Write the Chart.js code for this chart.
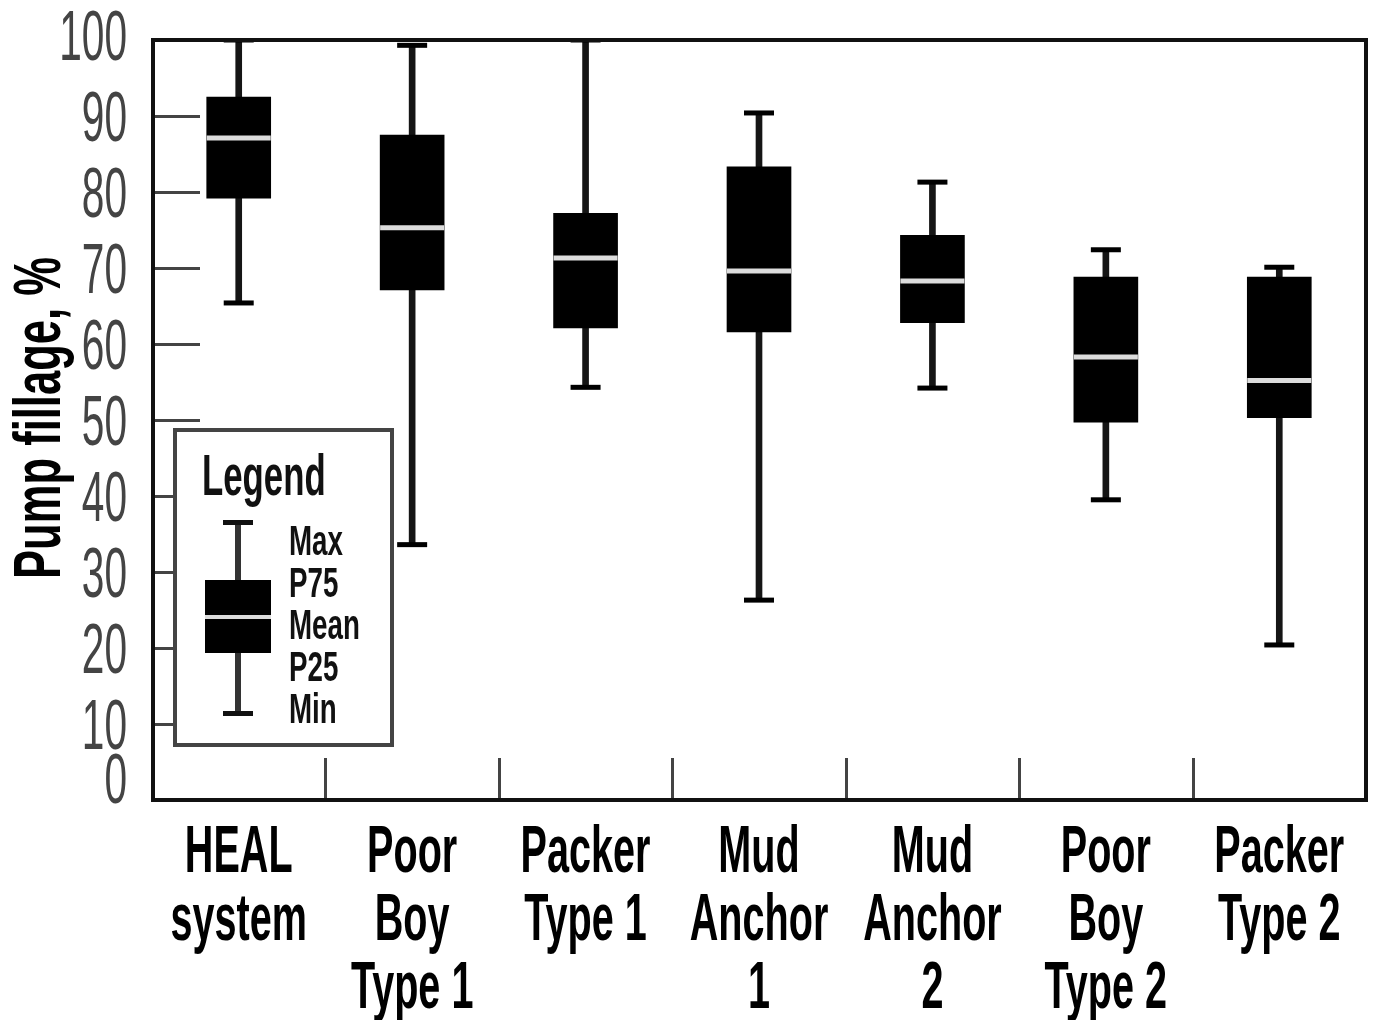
<!DOCTYPE html>
<html>
<head>
<meta charset="utf-8">
<script src="https://cdn.jsdelivr.net/npm/chart.js@4.4.1/dist/chart.umd.min.js"></script>
<style>
  html, body { margin: 0; padding: 0; background: #ffffff; overflow: hidden; }
  #wrap { position: relative; width: 1375px; height: 1020px; }
  canvas { display: block; }
</style>
</head>
<body>
<div id="wrap"><canvas id="c" width="1375" height="1020"></canvas></div>
<script>
// ---- data ----
const categories = [
  ["HEAL", "system"],
  ["Poor", "Boy", "Type 1"],
  ["Packer", "Type 1"],
  ["Mud", "Anchor", "1"],
  ["Mud", "Anchor", "2"],
  ["Poor", "Boy", "Type 2"],
  ["Packer", "Type 2"]
];
const maxVals  = [100.0, 99.3, 100.0, 90.4, 81.3, 72.4, 70.1];
const p75Vals  = [92.5, 87.5, 77.2, 83.3, 74.3, 68.8, 68.8];
const meanVals = [87.1, 75.3, 71.3, 69.6, 68.3, 58.3, 55.2];
const p25Vals  = [79.2, 67.1, 62.1, 61.6, 62.8, 49.7, 50.3];
const minVals  = [65.4, 33.6, 54.3, 26.3, 54.2, 39.5, 20.4];
const yTicks   = [0, 10, 20, 30, 40, 50, 60, 70, 80, 90, 100];
const yTitle   = "Pump fillage, %";
const legendTitle = "Legend";
const legendItems = ["Max", "P75", "Mean", "P25", "Min"];

const FONT = '"Liberation Sans", Arial, sans-serif';

function drawText(ctx, text, x, y, opts) {
  ctx.save();
  ctx.translate(x, y);
  if (opts.rotate) ctx.rotate(opts.rotate);
  ctx.scale(opts.sx || 1, 1);
  ctx.font = opts.font;
  ctx.fillStyle = opts.color || '#000';
  ctx.textAlign = opts.align || 'left';
  ctx.textBaseline = 'alphabetic';
  ctx.fillText(text, 0, 0);
  ctx.restore();
}

const decor = {
  id: 'decor',
  beforeDatasetsDraw(chart) {
    const ctx = chart.ctx, a = chart.chartArea;
    const ys = chart.scales.y, xs = chart.scales.x;
    ctx.save();
    ctx.strokeStyle = '#444';
    ctx.lineWidth = 3;
    yTicks.forEach(v => {
      if (v === 0 || v === 100) return;
      const py = Math.round(ys.getPixelForValue(v)) + 0.5;
      ctx.beginPath(); ctx.moveTo(a.left, py); ctx.lineTo(a.left + 48, py); ctx.stroke();
    });
    for (let i = 1; i < categories.length; i++) {
      const px = Math.round((xs.getPixelForValue(i - 1) + xs.getPixelForValue(i)) / 2) + 0.5;
      ctx.beginPath(); ctx.moveTo(px, a.bottom); ctx.lineTo(px, a.bottom - 42); ctx.stroke();
    }
    ctx.restore();
  },
  afterDatasetsDraw(chart) {
    const ctx = chart.ctx, a = chart.chartArea;
    const ys = chart.scales.y, xs = chart.scales.x;
    ctx.save();
    ctx.strokeStyle = '#111';
    ctx.lineWidth = 4;
    ctx.strokeRect(a.left + 1, a.top, a.right - a.left - 1, a.bottom - a.top);
    ctx.restore();

    yTicks.forEach(v => {
      let py = ys.getPixelForValue(v) + 25;
      if (v === 0) py -= 22;
      if (v === 100) py -= 5;
      drawText(ctx, String(v), a.left - 25, py,
        { font: '400 70px ' + FONT, sx: 0.58, align: 'right', color: '#444' });
    });

    chart.data.labels.forEach((lab, i) => {
      const px = xs.getPixelForValue(i);
      const lines = Array.isArray(lab) ? lab : [lab];
      lines.forEach((ln, j) => {
        drawText(ctx, ln, px, a.bottom + 72 + j * 68,
          { font: 'bold 66px ' + FONT, sx: 0.6, align: 'center', color: '#000' });
      });
    });

    drawText(ctx, yTitle, 60, (a.top + a.bottom) / 2 - 2,
      { font: 'bold 66px ' + FONT, sx: 0.66, align: 'center', rotate: -Math.PI / 2, color: '#000' });

    const L = a.left + 23, T = a.top + 390, W = 217, H = 315;
    ctx.save();
    ctx.fillStyle = '#fff';
    ctx.fillRect(L, T, W, H);
    ctx.strokeStyle = '#444';
    ctx.lineWidth = 4;
    ctx.strokeRect(L, T, W, H);
    ctx.restore();
    drawText(ctx, legendTitle, L + 27, T + 65,
      { font: 'bold 58px ' + FONT, sx: 0.6, align: 'left', color: '#111' });
    const cx = L + 63;
    ctx.save();
    ctx.fillStyle = '#333';
    ctx.fillRect(cx - 3, T + 93, 6, 190);
    ctx.fillStyle = '#111';
    ctx.fillRect(cx - 15, T + 90, 30, 5);
    ctx.fillRect(cx - 15, T + 281, 30, 5);
    ctx.fillStyle = '#000';
    ctx.fillRect(cx - 33, T + 150, 66, 73);
    ctx.fillStyle = '#dcdcdc';
    ctx.fillRect(cx - 33, T + 185, 66, 4);
    ctx.restore();
    legendItems.forEach((t, k) => {
      drawText(ctx, t, L + 114, T + 125 + k * 42,
        { font: 'bold 42px ' + FONT, sx: 0.66, align: 'left', color: '#111' });
    });
  }
};

const whiskerData = minVals.map((v, i) => [v, maxVals[i]]);
const boxData = p25Vals.map((v, i) => [v, p75Vals[i]]);

new Chart(document.getElementById('c'), {
  type: 'bar',
  data: {
    labels: categories,
    datasets: [
      { type: 'bar', data: whiskerData, backgroundColor: '#151515', barThickness: 6,
        grouped: false, order: 5, borderWidth: 0 },
      { type: 'bar', data: boxData, backgroundColor: '#000000', barThickness: 64,
        grouped: false, order: 4, borderWidth: 0 },
      { type: 'line', data: maxVals, showLine: false, pointStyle: 'line', pointRadius: 15,
        pointBorderWidth: 5, pointBorderColor: '#000', order: 3 },
      { type: 'line', data: minVals, showLine: false, pointStyle: 'line', pointRadius: 15,
        pointBorderWidth: 5, pointBorderColor: '#000', order: 2 },
      { type: 'line', data: meanVals, showLine: false, pointStyle: 'line', pointRadius: 32,
        pointBorderWidth: 5, pointBorderColor: '#dcdcdc', order: 1 }
    ]
  },
  options: {
    responsive: false,
    maintainAspectRatio: false,
    devicePixelRatio: 1,
    animation: false,
    events: [],
    layout: { autoPadding: false, padding: { left: 0, top: 40, right: 9, bottom: 0 } },
    plugins: { legend: { display: false }, tooltip: { enabled: false } },
    scales: {
      x: {
        type: 'category',
        offset: true,
        grid: { display: false },
        border: { display: false },
        ticks: { display: false },
        afterFit(s) { s.height = 220; }
      },
      y: {
        min: 0, max: 100,
        ticks: { display: false, stepSize: 10 },
        grid: { display: false },
        border: { display: false },
        afterFit(s) { s.width = 152; }
      }
    }
  },
  plugins: [decor]
});
</script>
</body>
</html>
